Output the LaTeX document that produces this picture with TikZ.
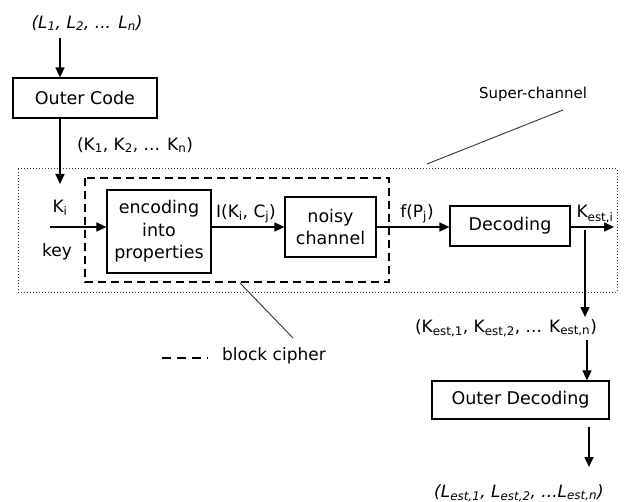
\documentclass[tikz,border=0pt]{standalone}
\usepackage{fontspec}
\setmainfont{DejaVu Sans}
\usetikzlibrary{arrows.meta}
\newcommand\ms[1]{\textsubscript{#1}}
\begin{document}
\begin{tikzpicture}[x=1pt,y=-1pt,
  box/.style={draw, line width=1.2pt, inner sep=0pt, align=center, font=\fontsize{17.5}{22.5}\selectfont},
  arr/.style={-{Triangle[length=10pt,width=9pt]}, line width=1.6pt},
  lbl/.style={inner sep=0pt, font=\fontsize{17}{20}\selectfont},
  ptr/.style={line width=0.9pt, draw=black!80}]
\useasboundingbox (0,0) rectangle (636,502);
% super-channel and block cipher frames
\draw[line width=1pt, dotted, black!80] (18,169) rectangle (617,292);
\draw[line width=1.6pt, dash pattern=on 8pt off 5pt] (85,178) rectangle (389,282);
% boxes
\node[box, minimum width=144pt, minimum height=40pt] (outer) at (85,98) {Outer Code};
\node[box, minimum width=104pt, minimum height=83pt] (enc) at (159,231.5) {encoding\\into\\properties};
\node[box, minimum width=91pt, minimum height=60pt] (noisy) at (330.5,227) {noisy\\channel};
\node[box, minimum width=120pt, minimum height=40pt] (dec) at (510,226) {Decoding};
\node[box, minimum width=177pt, minimum height=38pt] (odec) at (520.5,400) {Outer Decoding};
% labels
\node[lbl, font=\fontsize{17}{20}\selectfont\itshape] (ltop) at (87,23) {(L\ms{1}, L\ms{2}, ... L\ms{n})};
\node[lbl] (kseq) at (135,145) {(K\ms{1}, K\ms{2}, ... K\ms{n})};
\node[lbl] (ki) at (60,208) {K\ms{i}};
\node[lbl] (key) at (57,252) {key};
\node[lbl] (ikc) at (246,214) {I(K\ms{i}, C\ms{j})};
\node[lbl] (fp) at (417,214) {f(P\ms{j})};
\node[lbl] (kesti) at (595,214) {K\ms{est,i}};
\node[lbl] (kestseq) at (506,328) {(K\ms{est,1}, K\ms{est,2}, ... K\ms{est,n})};
\node[lbl, font=\fontsize{17}{20}\selectfont\itshape] (lest) at (519,493) {(L\ms{est,1}, L\ms{est,2}, ...L\ms{est,n})};
\node[lbl, font=\fontsize{15}{18}\selectfont] (super) at (533,94) {Super-channel};
\node[lbl, anchor=west, font=\fontsize{17}{20}\selectfont] (bc) at (222,356) {block cipher};
% coordinates
\coordinate (topin) at (60,38);
\coordinate (kiend) at (60,184);
\coordinate (keyin) at (50,227);
\coordinate (kout) at (614,227);
\coordinate (kbr) at (585,230);
\coordinate (kbrend) at (585,317);
\coordinate (odin) at (587,340);
\coordinate (odout) at (589,427);
\coordinate (lend) at (589,467);
\coordinate (sc1) at (427,164);
\coordinate (sc2) at (563,110);
\coordinate (bc1) at (240,283);
\coordinate (bc2) at (293,338);
\coordinate (lg1) at (162,358);
\coordinate (lg2) at (208,358);
% connectors
\draw[arr] (topin) -- (topin |- outer.north);
\draw[arr] (kiend |- outer.south) -- (kiend);
\draw[arr] (keyin) -- (keyin -| enc.west);
\draw[arr] (enc.east |- keyin) -- (noisy.west |- keyin);
\draw[arr] (noisy.east |- keyin) -- (dec.west |- keyin);
\draw[arr] (dec.east |- keyin) -- (kout);
\draw[arr] (kbr) -- (kbrend);
\draw[arr] (odin) -- (odin |- odec.north);
\draw[arr] (odout) -- (lend);
\draw[ptr] (sc1) -- (sc2);
\draw[ptr] (bc1) -- (bc2);
\draw[line width=1.6pt, dash pattern=on 9pt off 6pt] (lg1) -- (lg2);
\end{tikzpicture}
\end{document}
